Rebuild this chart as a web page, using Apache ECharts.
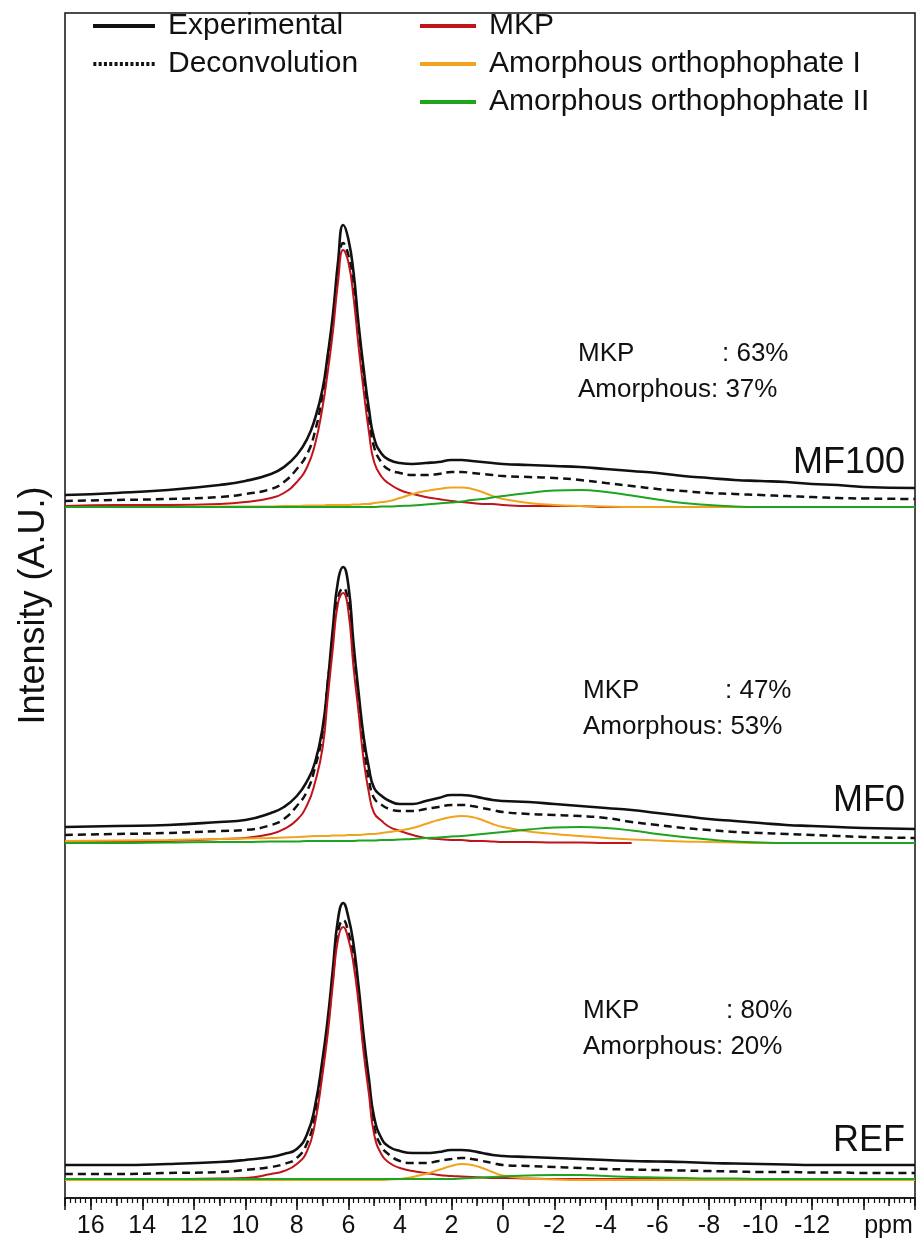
<!DOCTYPE html>
<html>
<head>
<meta charset="utf-8">
<title>31P NMR deconvolution</title>
<script src="https://cdn.jsdelivr.net/npm/echarts@6/dist/echarts.min.js"></script>
<style>
  html, body { margin: 0; padding: 0; background: #fff; }
  #chart { width: 917px; height: 1238px; }
</style>
</head>
<body>
<div id="chart"></div>
<script>
// chemical shift (ppm) shared by every trace
var shift = [17, 15, 13, 11, 10, 9, 8.5, 8, 7.6, 7.3, 7.0, 6.8, 6.6, 6.4, 6.2, 6.0, 5.8, 5.6, 5.4, 5.2, 5.0,
  4.7, 4.4, 4.0, 3.5, 3.0, 2.5, 2.0, 1.6, 1.2, 0.8, 0.4, 0,
  -1, -2, -3, -4, -5, -6, -7, -8, -9, -10, -11, -12, -13, -14, -16];

// MF100
var mf100Exp = [12, 14, 17, 22, 26, 33, 40, 52, 68, 88, 118, 152, 192, 245, 282, 268, 235, 182, 137, 98, 69,
  53, 47, 44, 43, 44, 45, 47, 47, 46, 45, 44, 43, 42, 41, 40, 38, 36, 34, 31, 29, 27, 26, 25, 23, 22, 20, 19];
var mf100Dec = [6, 7, 8, 10, 13, 18, 25, 38, 53, 75, 112, 147, 187, 235, 264, 252, 222, 170, 126, 88, 60,
  44, 37, 34, 32, 32, 33, 35, 35, 34, 33, 32, 31, 30, 29, 27, 24, 21, 18, 16, 14, 13, 12, 11, 10, 9, 8.5, 8];
var mf100Mkp = [1, 2, 2, 3, 5, 9, 14, 25, 40, 62, 100, 135, 175, 225, 257, 245, 210, 160, 115, 75, 45,
  30, 23, 17, 13, 10, 8, 6, 5, 4, 3, 3, 2, 1, 1, 1, 0, 0, 0, 0, 0, 0, 0, 0, 0, 0, 0, 0];
var mf100Am1 = [0, 0, 0, 0.5, 0.5, 0.5, 1, 1, 1.5, 1.5, 1.5, 2, 2, 2, 2, 2, 2.5, 2.5, 3, 3, 4,
  5, 6, 9, 13, 16, 18, 19.5, 19.5, 18, 15, 11, 8, 4, 2, 1, 0.5, 0, 0, 0, 0, 0, 0, 0, 0, 0, 0, 0];
var mf100Am2 = [0, 0, 0, 0, 0, 0, 0, 0, 0, 0, 0, 0, 0, 0, 0, 0, 0, 0, 0, 0, 0,
  0.5, 0.5, 1, 1.5, 2.5, 3.5, 4.5, 5.5, 7, 8, 9.5, 11, 14, 16.5, 17, 15, 11.5, 7.5, 4, 2, 0.5, 0, 0, 0, 0, 0, 0];

// MF0
var mf0Exp = [16, 17, 18, 21, 23, 30, 36, 47, 62, 80, 115, 160, 215, 262, 276, 258, 200, 150, 105, 75, 55,
  47, 42, 39, 39, 42, 45, 48, 48, 47, 45, 43, 42, 41, 39, 37, 35, 33, 30, 27, 24, 22, 20, 18, 17, 16, 15, 14];
var mf0Dec = [8, 9, 10, 12, 13, 18, 24, 37, 52, 75, 110, 160, 205, 245, 255, 240, 190, 142, 95, 63, 45,
  38, 34, 32, 32, 34, 36, 38, 38, 37, 35, 33, 31, 29, 28, 27, 25, 21, 18, 15, 13, 11, 10, 9, 8, 7, 6, 5];
var mf0Mkp = [1, 1, 2, 4, 5, 9, 14, 23, 38, 60, 95, 145, 195, 240, 250, 232, 176, 130, 82, 50, 30,
  22, 16, 12, 8, 5, 4, 3, 3, 2, 2, 1.5, 1, 1, 0.5, 0.5, 0, 0, null, null, null, null, null, null, null, null, null, null];
var mf0Am1 = [2, 2.5, 3, 4, 4.5, 5, 5.5, 6, 6.5, 7, 7, 7, 7.5, 7.5, 7.5, 8, 8, 8, 8.5, 9, 9,
  10, 11, 12.5, 15, 19, 23, 26, 27, 26, 23, 19, 16, 11.5, 9, 7, 5, 3.5, 2.5, 1.5, 1, 0.5, 0, 0, 0, 0, 0, 0];
var mf0Am2 = [0, 0, 0.5, 1, 1, 1.5, 1.5, 1.5, 2, 2, 2, 2, 2, 2, 2, 2, 2, 2.5, 2.5, 2.5, 2.5,
  3, 3, 3.5, 4, 5, 5.5, 6.5, 7, 8, 9, 10, 11, 13.5, 15.5, 16, 15, 12.5, 9, 6, 3.5, 1.5, 0.5, 0, 0, 0, 0, 0];

// REF
var refExp = [14, 14, 15, 17, 19, 22, 25, 30, 45, 72, 120, 160, 210, 260, 276, 262, 235, 192, 142, 100, 62,
  40, 32, 28, 26, 26, 27, 29, 29, 28, 26, 24, 23, 22, 21, 20, 19, 18, 17.5, 17, 16, 15.5, 15, 14.5, 14, 14, 14, 14];
var refDec = [5, 5, 6, 7, 9, 12, 15, 21, 36, 62, 112, 152, 202, 247, 259, 247, 222, 182, 132, 92, 52,
  32, 24, 18, 16, 16, 18, 20, 21, 20, 18, 16, 14, 13, 12, 11, 10, 9.5, 9, 8.5, 8, 7.5, 7, 7, 6.5, 6.5, 6, 6];
var refMkp = [0, 0, 0, 0.5, 1, 5, 8, 15, 28, 55, 105, 145, 195, 240, 252, 240, 215, 175, 125, 85, 45,
  24, 16, 11, 8, 6, 4, 3, 2.5, 2, 1.5, 1, 1, 0.5, 0, 0, 0, 0, 0, 0, 0, 0, 0, 0, 0, 0, 0, 0];
var refAm1 = [-1, -1, -1, -1, -1, -1, -1, -1, -1, -1, -1, -1, -1, -1, -1, -1, -1, -1, -1, -1, -1,
  -1, -0.5, 0, 2, 5, 9, 13, 15, 14, 11, 7, 3.5, 0.5, -0.5, -1, -1, -1, -1, -1, -1, -1, -1, -1, -1, -1, -1, -1];
var refAm2 = [0, 0, 0, 0, 0, 0, 0, 0, 0, 0, 0, 0, 0, 0, 0, 0, 0, 0, 0, 0, 0,
  0, 0, 0, 0, 0, 0, 0, 0.5, 1, 1.5, 2, 2.5, 3.5, 4, 4, 3, 2, 1.5, 1, 0.5, 0.5, 0, 0, 0, 0, 0, 0];

var samples = ['MF100', 'MF0', 'REF'];
var mkpShare = [63, 47, 80];
var amorphShare = [37, 53, 20];
var xTicks = { min: -16, max: 17, step: 2 };

var panels = [
  [mf100Exp, mf100Dec, mf100Mkp, mf100Am1, mf100Am2],
  [mf0Exp, mf0Dec, mf0Mkp, mf0Am1, mf0Am2],
  [refExp, refDec, refMkp, refAm1, refAm2]
];

var FONT = "'Liberation Sans', Arial, sans-serif";
var names = ['Experimental', 'Deconvolution', 'MKP', 'Amorphous orthophophate I', 'Amorphous orthophophate II'];
var colors = ['#111111', '#111111', '#c0141c', '#f2a31e', '#1ea41e'];
var widths = [2.6, 2.5, 2, 2, 2];
var types = ['solid', [8, 5], 'solid', 'solid', 'solid'];

var baselines = [507, 843, 1179];   // pixel row of each panel's zero line
var panelTop = function (b) { return b - 290; };

function pts(arr) {
  return shift.map(function (x, i) { return [x, arr[i]]; });
}

// grid 0: the frame with the ppm axis; grid 1: same box, only carries the 1-ppm ticks
var grids = [
  { left: 65, right: 2, top: 13, bottom: 40, outerBoundsMode: 'none', show: true, borderColor: '#111', borderWidth: 1.5 },
  { left: 65, right: 2, top: 13, bottom: 40, outerBoundsMode: 'none' }
];
var xAxes = [
  {
    type: 'value', gridIndex: 0, position: 'bottom', min: xTicks.min, max: xTicks.max, interval: xTicks.step, inverse: true,
    axisLine: { lineStyle: { color: '#111', width: 1.5 } },
    axisTick: { length: 12, lineStyle: { color: '#111', width: 1.5 } },
    minorTick: { show: true, splitNumber: 10, length: 5, lineStyle: { color: '#111', width: 1.2 } },
    splitLine: { show: false },
    axisLabel: {
      margin: 16, color: '#111', fontSize: 25, fontFamily: FONT,
      formatter: function (v) {
        if (v === -14) return '{p|ppm}';
        if (v === 17 || v === -16) return '';
        return String(v);
      },
      rich: { p: { fontSize: 25, fontFamily: FONT, color: '#111', padding: [0, 0, 0, 50] } }
    }
  },
  {
    type: 'value', gridIndex: 1, position: 'bottom', min: xTicks.min, max: xTicks.max, interval: 1, inverse: true,
    axisLine: { show: false }, axisLabel: { show: false }, splitLine: { show: false },
    axisTick: { length: 8, lineStyle: { color: '#111', width: 1.5 } }
  }
];
var yAxes = [
  {
    type: 'value', gridIndex: 0, min: 0, max: 1,
    axisLine: { show: false }, axisTick: { show: false }, axisLabel: { show: false }, splitLine: { show: false },
    name: 'Intensity (A.U.)', nameLocation: 'middle', nameGap: 13,
    nameTextStyle: { fontSize: 36, fontFamily: FONT, color: '#111' }
  },
  { type: 'value', gridIndex: 1, min: 0, max: 1, show: false }
];

var series = [];
var graphics = [];

panels.forEach(function (traces, p) {
  var g = p + 2;
  grids.push({ left: 65, right: 2, top: panelTop(baselines[p]), height: 300, outerBoundsMode: 'none' });
  xAxes.push({ type: 'value', gridIndex: g, min: xTicks.min, max: xTicks.max, inverse: true, show: false });
  yAxes.push({ type: 'value', gridIndex: g, min: -10, max: 290, show: false });
  traces.forEach(function (vals, k) {
    series.push({
      name: names[k], type: 'line', xAxisIndex: g, yAxisIndex: g,
      data: pts(vals), smooth: 0.5, symbol: 'none', connectNulls: false,
      color: colors[k],
      lineStyle: { color: colors[k], width: widths[k], type: types[k] },
      z: 2 + k
    });
  });

  var annY = [341, 678, 998][p];
  var annX = [578, 583, 583][p];
  var colonX = [722, 725, 726][p];
  graphics.push(
    { type: 'text', left: annX, top: annY, style: { text: 'MKP', font: '26px ' + FONT, fill: '#111' } },
    { type: 'text', left: colonX, top: annY, style: { text: ': ' + mkpShare[p] + '%', font: '26px ' + FONT, fill: '#111' } },
    { type: 'text', left: annX, top: annY + 36, style: { text: 'Amorphous: ' + amorphShare[p] + '%', font: '26px ' + FONT, fill: '#111' } },
    { type: 'text', right: 12, top: [445, 783, 1123][p], style: { text: samples[p], font: '36px ' + FONT, fill: '#111' } }
  );
});

var DOTS = 'path://M0,0h3v4h-3z M5.3,0h3v4h-3z M10.6,0h3v4h-3z M15.9,0h3v4h-3z M21.2,0h3v4h-3z M26.5,0h3v4h-3z ' +
  'M31.8,0h3v4h-3z M37.1,0h3v4h-3z M42.4,0h3v4h-3z M47.7,0h3v4h-3z M53,0h3v4h-3z M58.3,0h3v4h-3z';

var legendText = { fontSize: 30, fontFamily: FONT, color: '#111', padding: [0, 0, 0, 8] };

var option = {
  backgroundColor: '#fff',
  animation: false,
  grid: grids,
  xAxis: xAxes,
  yAxis: yAxes,
  legend: [
    {
      left: 88, top: 6, orient: 'vertical', itemWidth: 62, itemHeight: 4, itemGap: 8, icon: 'rect',
      selectedMode: false, textStyle: legendText,
      data: ['Experimental', { name: 'Deconvolution', icon: DOTS }]
    },
    {
      left: 415, top: 6, orient: 'vertical', itemWidth: 56, itemHeight: 4, itemGap: 8, icon: 'rect',
      selectedMode: false, textStyle: legendText,
      data: ['MKP', 'Amorphous orthophophate I', 'Amorphous orthophophate II']
    }
  ],
  graphic: graphics,
  series: series
};

var chart = echarts.init(document.getElementById('chart'));
chart.setOption(option);
</script>
</body>
</html>
